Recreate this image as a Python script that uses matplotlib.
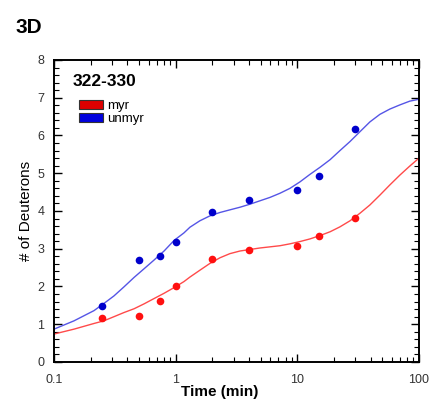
import numpy as np
import matplotlib.pyplot as plt
from matplotlib.patches import Patch
from matplotlib.ticker import LogLocator, MultipleLocator, FixedLocator, NullFormatter

# Data
time = [0.25, 0.5, 0.75, 1, 2, 4, 10, 15, 30]
myr = [1.17, 1.23, 1.62, 2.00, 2.72, 2.96, 3.07, 3.33, 3.81]
unmyr = [1.49, 2.69, 2.80, 3.17, 3.97, 4.29, 4.56, 4.94, 6.18]

# fitted curves
fit_t = [0.1, 0.146, 0.213, 0.257, 0.311, 0.376, 0.455, 0.55, 0.664, 0.803, 0.97,
         1.17, 1.31, 1.58, 1.91, 2.31, 2.79, 3.38, 4.08, 4.93, 5.96, 7.2, 8.7,
         10.5, 12.7, 15.4, 18.6, 22.4, 27.1, 32.7, 39.5, 47.7, 57.6, 69.6, 84, 100]
fit_myr = [0.74, 0.87, 1.02, 1.09, 1.20, 1.31, 1.41, 1.54, 1.68, 1.82, 1.97,
           2.13, 2.25, 2.43, 2.61, 2.76, 2.87, 2.94, 2.98, 3.02, 3.05, 3.08, 3.13,
           3.19, 3.26, 3.35, 3.45, 3.58, 3.74, 3.94, 4.16, 4.42, 4.69, 4.95, 5.19, 5.40]
fit_unmyr = [0.87, 1.09, 1.36, 1.55, 1.75, 1.99, 2.24, 2.47, 2.70, 2.94, 3.22,
             3.42, 3.57, 3.74, 3.87, 3.96, 4.03, 4.10, 4.18, 4.27, 4.36, 4.47, 4.60,
             4.77, 4.97, 5.16, 5.36, 5.60, 5.84, 6.10, 6.36, 6.56, 6.70, 6.81, 6.91, 6.96]

plt.rcParams['font.family'] = ['Liberation Sans', 'DejaVu Sans']

fig = plt.figure(figsize=(4.3, 4.04), dpi=100)
ax = fig.add_axes([0.1256, 0.104, 0.8488, 0.7475])

ax.plot(fit_t, fit_myr, color='#ff4a4a', lw=1.0)
ax.plot(fit_t, fit_unmyr, color='#5555e6', lw=1.0)
ax.plot(time, myr, 'o', color='#ff1010', ms=5.5, mec='none')
ax.plot(time, unmyr, 'o', color='#0000cc', ms=5.5, mec='none')

ax.set_xscale('log')
ax.set_xlim(0.1, 100)
ax.set_ylim(0, 8)
ax.xaxis.set_major_locator(FixedLocator([0.1, 1, 10, 100]))
ax.set_xticklabels(['0.1', '1', '10', '100'])
ax.xaxis.set_minor_locator(LogLocator(base=10, subs=np.arange(2, 10)))
ax.xaxis.set_minor_formatter(NullFormatter())
ax.yaxis.set_major_locator(MultipleLocator(1))
ax.yaxis.set_minor_locator(MultipleLocator(0.2))

ax.tick_params(which='both', direction='in', top=True, right=True, colors='black',
               labelcolor='#333333', labelsize=9)
ax.tick_params(which='major', length=6, width=1)
ax.tick_params(which='minor', length=3.5, width=0.8)
ax.tick_params(axis='x', which='major', pad=9)
ax.tick_params(axis='y', which='major', pad=7)
for s in ax.spines.values():
    s.set_linewidth(1.4)

ax.set_xlabel('Time (min)', fontsize=11, fontweight='bold')
ax.xaxis.set_label_coords(0.455, -0.099)
ax.xaxis.label.set_va('center')
ax.set_ylabel('# of Deuterons', fontsize=11, labelpad=3)

handles = [Patch(facecolor='#dd0000', edgecolor='#333333', lw=0.8),
           Patch(facecolor='#0000dd', edgecolor='#333333', lw=0.8)]
leg = ax.legend(handles, ['myr', 'unmyr'], loc='upper left', bbox_to_anchor=(0.055, 0.885),
                frameon=False, fontsize=9.5, handlelength=1.8, handleheight=0.7,
                handletextpad=0.3, labelspacing=0.05, borderaxespad=0)
ax.text(0.05, 0.955, '322-330', transform=ax.transAxes, fontsize=12.5,
        fontweight='bold', va='top', ha='left')

fig.text(0.035, 0.955, '3D', fontsize=15, fontweight='bold', va='top', ha='left')

fig.savefig('out.png', dpi=100)
